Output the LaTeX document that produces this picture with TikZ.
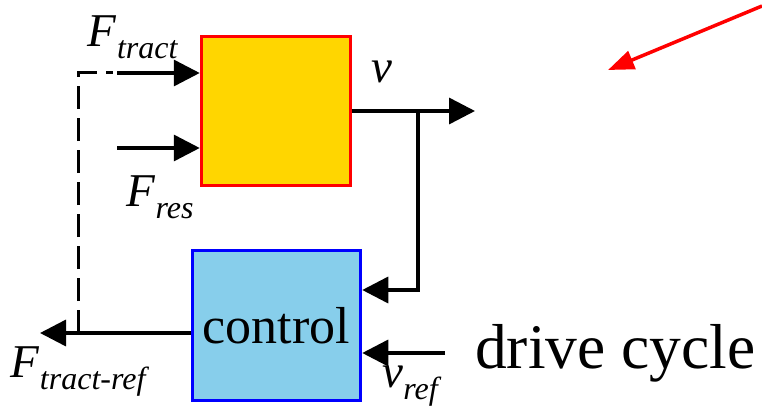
\documentclass[tikz,border=0pt]{standalone}
\usepackage{fontspec}
\setmainfont{Liberation Serif}
\usetikzlibrary{arrows.meta}
\definecolor{plantfill}{RGB}{255,214,0}
\definecolor{ctrlfill}{RGB}{135,206,235}
\newcommand\sublbl[2]{\textit{#1}\raisebox{-12pt}{\fontsize{32}{32}\selectfont\textit{#2}}}
\begin{document}
\begin{tikzpicture}[x=1pt,y=-1pt,
  arr/.style={line width=3.5pt,-{Triangle[length=26pt,width=26pt]}},
  blk/.style={draw,line width=3.5pt,minimum width=#1,inner sep=0pt,anchor=center},
  lbl/.style={font=\fontsize{47}{50}\selectfont,inner sep=0pt}]
\useasboundingbox (0,0) rectangle (762,417);
\node[blk=149pt,minimum height=149pt,draw=red,fill=plantfill] (plant) at (276,111) {};
\node[blk=168pt,minimum height=150pt,draw=blue,fill=ctrlfill,font=\fontsize{52}{54}\selectfont] (ctrl) at (276.5,325.5) {control};
\coordinate (ftr) at (117,73);
\coordinate (fres) at (117,148);
\coordinate (vend) at (475,111);
\coordinate (br) at (418,111);
\coordinate (vref) at (445,353);
\coordinate (fout) at (40,333);
\coordinate (dj) at (78,333);
\coordinate (dtop) at (78,73);
\draw[arr] (ftr) -- (ftr -| plant.west);
\draw[arr] (fres) -- (fres -| plant.west);
\draw[arr] (plant.east) -- (vend);
\draw[arr] (br) |- (ctrl.east |- 0,290);
\draw[arr] (vref) -- (vref -| ctrl.east);
\draw[arr] (ctrl.west |- fout) -- (fout);
\draw[line width=3pt,dash pattern=on 23pt off 9pt] (dj) -- (dtop) -- (113,73);
\draw[red,line width=3.5pt,-{Triangle[length=26pt,width=19pt]}] (762,6) -- (608,70);
\node[lbl] (ftlbl) at (133,37) {\sublbl{F}{tract}};
\node[lbl] (frlbl) at (160,197) {\sublbl{F}{res}};
\node[lbl] (vlbl) at (382,72) {\textit{v}};
\node[lbl] (ftrlbl) at (80,372) {\sublbl{F}{tract-ref}};
\node[lbl] (vrlbl) at (412,386) {\sublbl{v}{ref}};
\node[font=\fontsize{63.5}{65}\selectfont,inner sep=0pt,anchor=base west] (cyc) at (475,368) {drive cycle};
\end{tikzpicture}
\end{document}
